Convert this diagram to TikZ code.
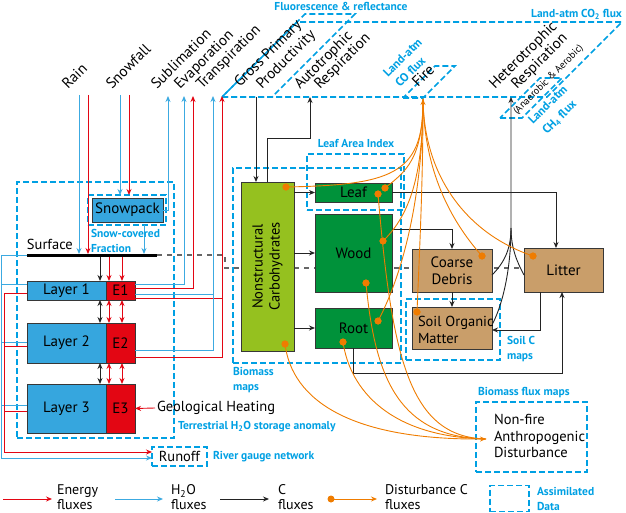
\documentclass[tikz,border=0pt]{standalone}
\usepackage{fontspec}
\setmainfont{PT Sans}
\usetikzlibrary{arrows.meta,calc}
\definecolor{asmc}{RGB}{0,160,227}
\definecolor{wat}{RGB}{60,170,225}
\definecolor{enr}{RGB}{227,6,19}
\definecolor{laybl}{RGB}{54,166,222}
\definecolor{nscg}{RGB}{149,193,31}
\definecolor{dkg}{RGB}{0,146,58}
\definecolor{tanc}{RGB}{201,158,106}
\definecolor{orng}{RGB}{239,124,0}
\definecolor{cblk}{RGB}{35,35,35}
\definecolor{edgec}{RGB}{55,55,55}
\begin{document}
\begin{tikzpicture}[x=1pt,y=-1pt,
  every node/.style={inner sep=0pt,outer sep=0pt},
  txt/.style={font=\fontsize{14.5}{16.5}\selectfont,align=left},
  rtxt/.style={font=\fontsize{15}{16}\selectfont,rotate=45,anchor=base west},
  asm/.style={draw=asmc,line width=1.6pt,dash pattern=on 6pt off 3pt},
  asml/.style={font=\bfseries\fontsize{11.5}{15}\selectfont,text=asmc,align=left},
  rasml/.style={font=\bfseries\fontsize{12}{15}\selectfont,text=asmc,rotate=45,anchor=base west},
  cbox/.style={draw=edgec,line width=0.8pt,font=\fontsize{15}{17}\selectfont,align=center},
  wf/.style={draw=wat,line width=0.9pt},
  ef/.style={draw=enr,line width=0.9pt},
  cf/.style={draw=cblk,line width=0.9pt},
  df/.style={draw=orng,line width=0.9pt},
  arr/.style={-{Stealth[length=6pt,width=5pt]}},
  darr/.style={{Stealth[length=6pt,width=5pt]}-{Stealth[length=6pt,width=5pt]}},
  odot/.style={circle,fill=orng,minimum size=7pt},
]
\useasboundingbox (0,0) rectangle (626,513);

% gray dashed ground line (behind)
\draw[draw=black!60,line width=2pt,dash pattern=on 5pt off 5pt] (157,255) -- (225,255) -- (225,268) -- (524,268);

% ---------- boxes ----------
\node[cbox,fill=laybl,minimum width=79pt,minimum height=19pt] (l1) at (66.5,290.5) {Layer 1};
\node[cbox,fill=enr,minimum width=29pt,minimum height=19pt] (e1) at (120.5,290.5) {E1};
\node[cbox,fill=laybl,minimum width=79pt,minimum height=40pt] (l2) at (66.5,343) {Layer 2};
\node[cbox,fill=enr,minimum width=29pt,minimum height=40pt] (e2) at (120.5,343) {E2};
\node[cbox,fill=laybl,minimum width=79pt,minimum height=49pt] (l3) at (66.5,408.5) {Layer 3};
\node[cbox,fill=enr,minimum width=29pt,minimum height=49pt] (e3) at (120.5,408.5) {E3};
\node[cbox,fill=laybl,minimum width=71pt,minimum height=24pt] (snow) at (127.5,210) {Snowpack};

\node[cbox,fill=nscg,minimum width=53pt,minimum height=169pt] (nsc) at (267.5,266.5) {};
\node[font=\fontsize{14.5}{17}\selectfont,align=center,rotate=90] (nsct) at (nsc.center) {Nonstructural\\Carbohydrates};
\node[cbox,fill=dkg,minimum width=77pt,minimum height=19pt] (leaf) at (353.5,192.5) {Leaf};
\node[cbox,fill=dkg,minimum width=77pt,minimum height=78pt] (wood) at (353.5,253) {Wood};
\node[cbox,fill=dkg,minimum width=77pt,minimum height=40pt] (root) at (353.5,328) {Root};
\node[cbox,fill=tanc,minimum width=80pt,minimum height=43pt] (cd) at (452,270.5) {Coarse\\Debris};
\node[cbox,fill=tanc,minimum width=79pt,minimum height=44pt] (litter) at (563.5,270) {Litter};
\node[cbox,fill=tanc,minimum width=80pt,minimum height=42pt] (som) at (452,328) {};
\node[font=\fontsize{14.5}{16.5}\selectfont,align=left,anchor=west] (somt) at (418,330) {Soil Organic\\Matter};

% surface
\coordinate (sfL) at (27,255);
\coordinate (sfR) at (157,255);
\node[txt,anchor=base west] (surf) at (27,249) {Surface};

% ---------- assimilated-data boxes ----------
\node[asm,minimum width=157pt,minimum height=256pt] (terr) at (95.5,310) {};
\node[asm,minimum width=78pt,minimum height=30pt] (snowa) at (127,210) {};
\node[asm,minimum width=168pt,minimum height=195pt] (bio) at (317,265.5) {};
\node[asm,minimum width=97pt,minimum height=56pt] (lai) at (355.5,182) {};
\node[asm,minimum width=94pt,minimum height=61pt] (soilc) at (453,329.5) {};
\node[asm,minimum width=55pt,minimum height=19pt,font=\fontsize{14.5}{16}\selectfont] (runoff) at (179.5,456.5) {Runoff};
\node[asm,minimum width=111pt,minimum height=70pt] (nf) at (531.5,437) {};
\node[txt,anchor=west] (nft) at (494,436) {Non-fire\\Anthropogenic\\Disturbance};
\draw[asm] (222,97) -- (547,97) -- (622,22) -- (297,22) -- cycle;
\draw[asm] (222,97) -- (272,97) -- (355,14) -- (305,14) -- cycle;
\draw[asm] (403,98) -- (423,98) -- (455,66) -- (435,66) -- cycle;
\draw[asm] (500,118) -- (522,118) -- (562,78) -- (540,78) -- cycle;

% surface line
\draw[line width=3pt] (sfL) -- (sfR);

% ---------- water / energy fluxes ----------
\draw[wf,arr] (79,95) -- (79,254);
\draw[ef,arr] (88,95) -- (88,254);
\draw[wf,arr] (120,95) -- (120,195);
\draw[ef,arr] (129,95) -- (129,195);
\draw[wf,arr] (snow.east) -| (168,96);
\draw[wf,arr] (144,225) -- (144,254);
\draw[wf,arr] (e1.east |- 0,284) -| (184,96);
\draw[ef,arr] (e1.east |- 0,288) -| (193,96);
\draw[wf,arr] (e1.east |- 0,294) -| (213,96);
\draw[ef,arr] (e1.east |- 0,298) -| (222,96);
\draw[wf] (e2.east |- 0,350) -| (213,294);
\draw[ef] (e2.east |- 0,357) -| (222,298);

\draw[wf,arr] (sfL) -- (1.5,255) -- (1.5,458) -- (runoff.west |- 0,458);
\draw[wf] (l1.west |- 0,284) -- (1.5,284);
\draw[wf] (l2.west |- 0,342) -- (1.5,342);
\draw[wf] (l3.west |- 0,405) -- (1.5,405);
\draw[ef,arr] (l1.west |- 0,293) -- (4.5,293) -- (4.5,452) -- (runoff.west |- 0,452);
\draw[ef] (l2.west |- 0,346) -- (4.5,346);
\draw[ef] (l3.west |- 0,411) -- (4.5,411);

\draw[cf,arr] (100,256.5) -- (100,0 |- l1.north);
\draw[ef,arr] (109,256.5) -- (109,0 |- l1.north);
\draw[ef,arr] (122,256.5) -- (122,0 |- l1.north);
\draw[cf,darr] (100,0 |- l1.south) -- (100,0 |- l2.north);
\draw[ef,darr] (109,0 |- l1.south) -- (109,0 |- l2.north);
\draw[ef,darr] (122,0 |- l1.south) -- (122,0 |- l2.north);
\draw[cf,darr] (100,0 |- l2.south) -- (100,0 |- l3.north);
\draw[ef,darr] (109,0 |- l2.south) -- (109,0 |- l3.north);
\draw[ef,darr] (122,0 |- l2.south) -- (122,0 |- l3.north);

\node[txt,anchor=west] (geo) at (157,408) {Geological Heating};
\draw[ef,arr] ($(geo.west)+(-2,0)$) -- (e3.east);

% ---------- carbon fluxes ----------
\draw[cf,arr] (256,97) -- (256,0 |- nsc.north);
\draw[cf,arr] (267,0 |- nsc.north) -- (267,138) -- (310,138) -- (310,97);
\draw[cf,arr] (nsc.east |- leaf) -- (leaf.west);
\draw[cf,arr] (nsc.east |- wood) -- (wood.west);
\draw[cf,arr] (nsc.east |- root) -- (root.west);
\draw[cf,arr] (leaf.east) -| ($(litter.north)+(-7.5,0)$);
\draw[cf,arr] (wood.east |- 0,229) -| (cd.north);
\draw[cf,arr] (cd.south) -- (som.north);
\draw[cf,arr] (540,0 |- litter.south) |- (som.east |- 0,330);
\draw[cf,arr] (353,0 |- root.south) -- (353,373) -| (562,0 |- litter.south);
\draw[cf,arr] (cd.east |- 0,275) .. controls (505,262) and (511,248) .. (511,228) -- (511,97);
\draw[cf] (litter.west |- 0,275) .. controls (517,262) and (511,248) .. (511,228);
\draw[cf] (som.east |- 0,325) .. controls (505,300) and (511,262) .. (511,228);

% ---------- disturbance fluxes ----------
\coordinate (fireT) at (423,99);
\coordinate (nfT) at ($(nf.west |- 0,439)+(10,0)$);
\node[odot] (dnscT) at (286,187) {};
\node[odot] (dleafF) at (385,188) {};
\node[odot] (dleafN) at (378,194) {};
\node[odot] (dwoodF) at (383,241) {};
\node[odot] (dwoodN) at (366,283) {};
\node[odot] (drootF) at (378,321) {};
\node[odot] (drootN) at (343,342) {};
\node[odot] (dnscB) at (285,344) {};
\node[odot] (dsom) at (417,312) {};
\node[odot] (dcd) at (482,256) {};
\node[odot] (dlit) at (533,256) {};
\draw[df,arr] (dnscT.center) .. controls (390,185) and (423,175) .. (fireT);
\draw[df] (dleafF.center) .. controls (405,172) and (423,160) .. (fireT);
\draw[df] (dwoodF.center) .. controls (410,215) and (423,175) .. (fireT);
\draw[df] (drootF.center) .. controls (405,270) and (423,190) .. (fireT);
\draw[df] (dsom.center) .. controls (420,240) and (423,180) .. (fireT);
\draw[df] (dcd.center) .. controls (450,220) and (424,170) .. (fireT);
\draw[df] (dlit.center) .. controls (470,235) and (424,180) .. (fireT);
\draw[df,arr] (dnscB.center) .. controls (292,400) and (350,440) .. (nfT);
\draw[df] (drootN.center) .. controls (350,390) and (390,437) .. (nfT);
\draw[df] (dwoodN.center) .. controls (375,380) and (400,437) .. (nfT);
\draw[df] (dleafN.center) .. controls (392,360) and (410,437) .. (nfT);
\foreach \d in {dnscT,dleafF,dleafN,dwoodF,dwoodN,drootF,drootN,dnscB,dsom,dcd,dlit}
  \node[odot] at (\d) {};

% ---------- rotated labels ----------
\node[rtxt] (tRain) at (68,90) {Rain};
\node[rtxt] (tSnow) at (112,90) {Snowfall};
\node[rtxt] (tSub) at (157,90) {Sublimation};
\node[rtxt] (tEva) at (180,90) {Evaporation};
\node[rtxt] (tTra) at (202,90) {Transpiration};
\node[rtxt] (tGpp1) at (240,88) {Gross Primary};
\node[rtxt] (tGpp2) at (262,90) {Productivity};
\node[rtxt] (tAr1) at (300,90) {Autotrophic};
\node[rtxt] (tAr2) at (320,90) {Respiration};
\node[rtxt] (tHr1) at (495,90) {Heterotrophic};
\node[rtxt] (tHr2) at (517,90) {Respiration};
\node[rtxt,font=\fontsize{10}{12}\selectfont] (tHr3) at (517,115) {(Anaerobic \& Aerobic)};
\node[rtxt] (tFire) at (418,88) {Fire};
\node[rasml] (tCO1) at (388,78) {Land-atm};
\node[rasml] (tCO2) at (400,88) {CO flux};
\node[rasml] (tCH1) at (533,125) {Land-atm};
\node[rasml] (tCH2) at (547,135) {CH\textsubscript{4} flux};

% ---------- assimilated-data labels ----------
\node[asml] (lFl) at (341,6.5) {Fluorescence \& reflectance};
\node[asml,anchor=east] (lCO) at (622,14) {Land-atm CO\textsubscript{2} flux};
\node[asml] (lLai) at (356,144) {Leaf Area Index};
\node[asml,anchor=west] (lSnow) at (91,240.5) {Snow-covered\\Fraction};
\node[asml,anchor=west] (lBio) at (233,380.5) {Biomass\\maps};
\node[asml,anchor=west] (lSoil) at (507,349.5) {Soil C\\maps};
\node[asml,anchor=west] (lTerr) at (178,427) {Terrestrial H\textsubscript{2}O storage anomaly};
\node[asml,anchor=west] (lRiv) at (213,457) {River gauge network};
\node[asml,anchor=west] (lBfm) at (478,393) {Biomass flux maps};

% ---------- legend ----------
\draw[ef,arr] (3,499) -- (52,499);
\node[txt,anchor=west,font=\fontsize{14}{15}\selectfont] (lgE) at (57,497.5) {Energy\\fluxes};
\draw[wf,arr] (115,499) -- (163,499);
\node[txt,anchor=west,font=\fontsize{14}{15}\selectfont] (lgW) at (171,497.5) {H\textsubscript{2}O\\fluxes};
\draw[cf,arr] (220,499) -- (269,499);
\node[txt,anchor=west,font=\fontsize{14}{15}\selectfont] (lgC) at (278,497.5) {C\\fluxes};
\node[odot] (lgdot) at (331,499) {};
\draw[df,arr] (lgdot.center) -- (377,499);
\node[txt,anchor=west,font=\fontsize{14}{15}\selectfont] (lgD) at (385,497.5) {Disturbance C\\fluxes};
\node[asm,minimum width=39pt,minimum height=26pt] (lgbox) at (509.5,498.5) {};
\node[asml,anchor=west] (lgA) at (537,498.5) {Assimilated\\Data};
\end{tikzpicture}
\end{document}
